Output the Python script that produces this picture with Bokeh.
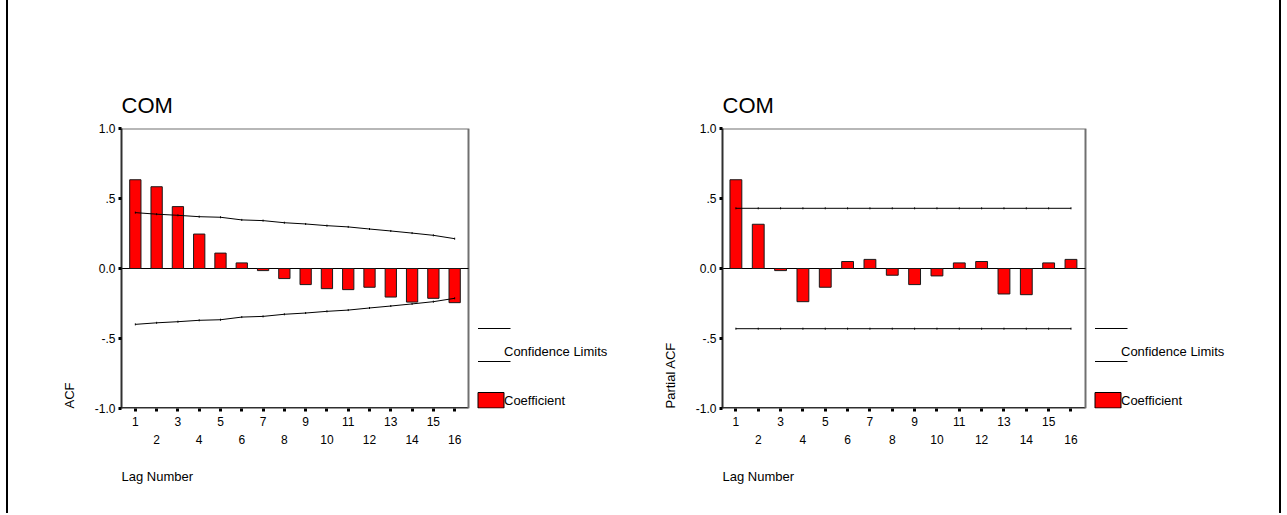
import math
from bokeh.plotting import figure
from bokeh.models import FixedTicker, LinearAxis, Title
from bokeh.layouts import row
from bokeh.core.properties import value
from bokeh.embed import file_html
from bokeh.resources import INLINE

# ---------------- data ----------------
lags = list(range(1, 17))
acf_values = [0.634, 0.584, 0.442, 0.246, 0.110, 0.040, -0.015, -0.072,
              -0.115, -0.144, -0.151, -0.134, -0.204, -0.240, -0.213, -0.244]
acf_upper = [0.399, 0.388, 0.380, 0.370, 0.366, 0.347, 0.342, 0.327,
             0.318, 0.306, 0.297, 0.282, 0.268, 0.253, 0.237, 0.213]
acf_lower = [-v for v in acf_upper]
pacf_values = [0.634, 0.316, -0.015, -0.237, -0.134, 0.050, 0.065, -0.048,
               -0.115, -0.053, 0.040, 0.050, -0.182, -0.187, 0.040, 0.065]
pacf_limit = 0.43
pacf_upper = [pacf_limit] * len(lags)
pacf_lower = [-pacf_limit] * len(lags)

y_ticks = [-1.0, -0.5, 0.0, 0.5, 1.0]
y_tick_labels = ["-1.0", "-.5", "0.0", ".5", "1.0"]
title_text = "COM"
x_label = "Lag Number"
legend_conf = "Confidence Limits"
legend_coef = "Coefficient"

FONT = "Liberation Sans"
FIG_H = 499
FRAME_TOP = 120      # canvas px above frame
FRAME_H = 280


def make_chart(vals, upper, lower, ylabel, fig_w, border_l, border_r,
               plot_px, x_start, x_plot_end):
    frame_w = fig_w - border_l - border_r
    ppu = plot_px / (x_plot_end - x_start)
    x_end = x_start + frame_w / ppu
    p = figure(width=fig_w, height=FIG_H, output_backend="svg",
               toolbar_location=None, x_range=(x_start, x_end),
               y_range=(-1, 1), min_border_left=border_l,
               min_border_right=border_r, min_border_top=FRAME_TOP,
               min_border_bottom=FIG_H - FRAME_TOP - FRAME_H,
               outline_line_color=None, background_fill_color="white",
               border_fill_color="white")
    p.grid.visible = False

    # title
    p.title.text = title_text
    p.title.align = "left"
    p.title.text_font = FONT
    p.title.text_font_size = "22px"
    p.title.text_font_style = "normal"
    p.title.text_color = "black"
    p.title.standoff = 22

    # y axis
    ya = p.yaxis[0]
    ya.ticker = FixedTicker(ticks=y_ticks)
    ya.major_label_overrides = {t: s for t, s in zip(y_ticks, y_tick_labels)}
    ya.minor_tick_line_color = None
    ya.major_tick_in = 0
    ya.major_tick_out = 3
    ya.major_tick_line_width = 3
    ya.major_tick_line_color = "black"
    ya.axis_line_color = "#303030"
    ya.axis_line_width = 2
    ya.major_label_text_font = FONT
    ya.major_label_text_font_size = "12px"
    ya.major_label_text_color = "black"
    ya.major_label_standoff = 3
    p.add_layout(Title(text=ylabel, align="left", text_font=FONT,
                       text_font_size="13px", text_font_style="normal",
                       text_color="black", standoff=30), "left")

    # x axis (odd labels on first row, tick marks at every lag)
    xa = p.xaxis[0]
    xa.ticker = FixedTicker(ticks=lags)
    xa.major_label_overrides = {l: (str(l) if l % 2 == 1 else " ") for l in lags}
    xa.minor_tick_line_color = None
    xa.major_tick_in = 0
    xa.major_tick_out = 3
    xa.major_tick_line_width = 3
    xa.major_tick_line_color = "black"
    xa.axis_line_color = None
    xa.major_label_text_font = FONT
    xa.major_label_text_font_size = "12px"
    xa.major_label_text_color = "black"
    xa.major_label_standoff = 3
    xb = LinearAxis(ticker=FixedTicker(ticks=[l for l in lags if l % 2 == 0]),
                    axis_line_color=None, major_tick_line_color=None,
                    minor_tick_line_color=None, major_label_standoff=-3,
                    major_label_text_font=FONT,
                    major_label_text_color="black",
                    major_label_text_font_size="12px")
    p.add_layout(xb, "below")
    p.add_layout(Title(text=x_label, align="left", text_font=FONT,
                       text_font_size="13px", text_font_style="normal",
                       text_color="black", standoff=41), "below")

    # plot box (bottom thick axis line, gray top/right)
    p.line([x_start, x_plot_end], [-1, -1], line_color="#303030", line_width=3)
    p.line([x_start, x_plot_end, x_plot_end], [1, 1, -1],
           line_color="#707070", line_width=2)
    p.line([x_start, x_plot_end], [0, 0], line_color="black", line_width=1)

    # bars
    p.vbar(x=lags, top=vals, bottom=0, width=0.53, fill_color="#FF0000",
           line_color="#1a1a1a", line_width=1)

    # confidence limits
    for lim in (upper, lower):
        p.line(lags, lim, line_color="black", line_width=1)
        p.scatter(lags, lim, marker="dash", angle=math.pi / 2, size=2,
                  line_color="black", line_width=1)

    # legend (outside the chart box, right side)
    def px_x(dpx):
        return x_plot_end + dpx / ppu

    def px_y(ypx):
        return 1 - 2 * (ypx - (FRAME_TOP + 8)) / FRAME_H

    p.line([px_x(9.5), px_x(42)], [px_y(328)] * 2, line_color="black", line_width=1)
    p.line([px_x(9.5), px_x(42)], [px_y(361)] * 2, line_color="black", line_width=1)
    p.text(x=[px_x(35.5)], y=[px_y(350.5)], text=[legend_conf],
           text_font=value(FONT), text_font_size="13px",
           text_baseline="middle", text_align="left", text_color="black")
    p.quad(left=[px_x(9.5)], right=[px_x(35.5)], top=[px_y(392)],
           bottom=[px_y(407.5)], fill_color="#FF0000", line_color="black",
           line_width=1)
    p.text(x=[px_x(35.5)], y=[px_y(400)], text=[legend_coef],
           text_font=value(FONT), text_font_size="13px",
           text_baseline="middle", text_align="left", text_color="black")
    return p


p1 = make_chart(acf_values, acf_upper, acf_lower, "ACF",
                fig_w=630, border_l=113, border_r=25, plot_px=347,
                x_start=0.35, x_plot_end=16.65)
p2 = make_chart(pacf_values, pacf_upper, pacf_lower, "Partial ACF",
                fig_w=641, border_l=84, border_r=39, plot_px=363,
                x_start=0.40, x_plot_end=16.65)

layout = row(p1, p2, styles={"border-left": "2px solid black",
                             "border-right": "2px solid black",
                             "margin-left": "6px",
                             "padding-top": "8px",
                             "padding-bottom": "6px",
                             "background-color": "white"})

open("out.html", "w").write(file_html(layout, INLINE))
